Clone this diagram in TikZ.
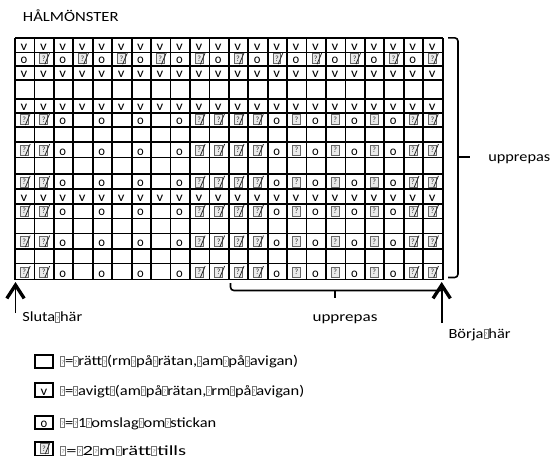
\documentclass[tikz,border=0pt]{standalone}
\usepackage{fontspec}
\usepackage{graphicx}
\setmainfont{Carlito}
\usetikzlibrary{arrows.meta}
\newcommand\mg{\textcolor{black!55}{\fboxsep=0pt\fboxrule=0.45pt\fbox{\makebox[2.2pt]{\rule{0pt}{6.6pt}\raisebox{1pt}{\fontsize{4}{4}\selectfont ?}}}}}
\newcommand\myFit[2]{\resizebox{#1}{\height}{#2}}
\def\rowA{1/v,2/v,3/v,4/v,5/v,6/v,7/v,8/v,9/v,10/v,11/v,12/v,13/v,14/v,15/v,16/v,17/v,18/v,19/v,20/v,21/v,22/v}
\def\rowB{1/o,2/s,3/o,4/s,5/o,6/s,7/o,8/s,9/o,10/s,11/o,12/s,13/o,14/s,15/o,16/s,17/o,18/s,19/o,20/s,21/o,22/s}
\def\rowD{1/s,2/s,3/o,4/n,5/o,6/n,7/o,8/n,9/o,10/s,11/s,12/s,13/s,14/o,15/q,16/o,17/q,18/o,19/q,20/o,21/s,22/s}
\begin{document}
\begin{tikzpicture}[x=0.75pt,y=-0.75pt,
  font=\fontsize{10.5}{12}\selectfont,
  gridline/.style={line width=1.3pt,black},
  ch/.style={inner sep=0pt,anchor=base,font=\fontsize{10}{12}\selectfont},
  qbox/.style={rectangle,draw=black!60,fill=black!8,line width=0.55pt,minimum width=5.8pt,minimum height=7.5pt,inner sep=0pt,anchor=south,font=\fontsize{6}{6}\selectfont,text=black!80},
  slash/.style={line width=0.6pt,black!85},
  lbl/.style={inner sep=0pt,anchor=base west},
  brace/.style={line width=1.2pt,rounded corners=2.5pt},
  arr/.style={line width=1.25pt,-{Straight Barb[length=10pt,width=13pt,line width=2.5pt]}},
  legbox/.style={draw,line width=1.3pt}
]
\useasboundingbox (0,0) rectangle (551,461);

% title
\node[lbl] (title) at (22.7,21.7) {\myFit{71.7pt}{HÅLMÖNSTER}};

% grid lines
\draw[gridline] (15,38.3) -- (442.7,38.3);
\foreach \yb in {52.5,66.2,80,99.1,113,127,141.7,157.5,173.8,189.3,204,218.4,233.4,249,263.4,279.5}
  \draw[gridline] (15,\yb) -- (442.7,\yb);
\foreach \i in {0,...,22}
  \draw[gridline] ({15+\i*19.44},38.3) -- ({15+\i*19.44},279.5);

% cell contents
\foreach \r/\yb/\t in {1/52.5/A,2/66.2/B,3/80/A,5/113/A,6/127/D,8/157.5/D,10/189.3/D,11/204/A,12/218.4/D,14/249/D,16/279.5/D}{
  \expandafter\let\expandafter\curlist\csname row\t\endcsname
  \foreach \c/\k in \curlist {
    \pgfmathsetmacro\xc{15+(\c-0.5)*19.44}
    \if\k v\node[ch] (r\r c\c) at (\xc-0.8,\yb-2.5) {\myFit{5pt}{v}};\fi
    \if\k o\node[ch] (r\r c\c) at (\xc-0.8,\yb-2.5) {\myFit{5pt}{o}};\fi
    \if\k s\node[qbox] (r\r c\c) at (\xc-0.5,\yb-2) {?};
      \draw[slash] ([xshift=0.9pt]r\r c\c.south) -- ([xshift=1.3pt,yshift=0.5pt]r\r c\c.north east);\fi
    \if\k q\node[qbox] (r\r c\c) at (\xc-0.5,\yb-2) {?};\fi
  }
}

% right brace
\draw[brace] (448,37.8) -| (458,157) |- (448,277.5);
\draw[line width=1.2pt] (458,157) -- (470,157);
\node[lbl] (uppR) at (488,161.7) {\myFit{46.5pt}{upprepas}};

% bottom brace
\draw[brace] (230.5,283) |- (441,290.5);
\draw[line width=1.2pt] (335,290.5) -- (335,298.3);
\node[lbl] (uppB) at (312.3,321.7) {\myFit{48.7pt}{upprepas}};

% arrows
\coordinate (slutaEnd) at (15.5,313);
\coordinate (slutaTip) at (15.5,282);
\draw[arr] (slutaEnd) -- (slutaTip);
\node[lbl] (sluta) at (22,321.7) {\myFit{45pt}{Sluta\mg här}};

\coordinate (borjaEnd) at (441.7,323);
\coordinate (borjaTip) at (441.7,282);
\draw[arr] (borjaEnd) -- (borjaTip);
\node[lbl] (borja) at (448.3,338.3) {\myFit{46.5pt}{Börja\mg här}};

% legend
\draw[legbox] (35,355) rectangle (53,368);
\node[coordinate] (lb1) at (44,361.5) {};
\draw[legbox] (35,383) rectangle (53,397);
\node[ch] (lb2) at (44,395) {\myFit{5pt}{v}};
\draw[legbox] (35,416) rectangle (53,429);
\node[ch] (lb3) at (44,427) {\myFit{5pt}{o}};
\draw[legbox] (35,442) rectangle (53,455.5);
\node[qbox] (lb4) at (44,454) {?};
\draw[slash] ([xshift=0.9pt]lb4.south) -- ([xshift=1.3pt,yshift=0.5pt]lb4.north east);

\node[lbl] (t1) at (60,365.7) {\myFit{178.5pt}{\mg=\mg rätt\mg(rm\mg på\mg rätan,\mg am\mg på\mg avigan)}};
\node[lbl] (t2) at (60,395) {\myFit{183pt}{\mg=\mg avigt\mg(am\mg på\mg rätan,\mg rm\mg på\mg avigan)}};
\node[lbl] (t3) at (60,427.3) {\myFit{117pt}{\mg=\mg 1\mg omslag\mg om\mg stickan}};
\node[lbl] (t4) at (60,455) {\myFit{94.5pt}{\mg=\mg 2\mg m\mg rätt\mg tills}};
\end{tikzpicture}
\end{document}
